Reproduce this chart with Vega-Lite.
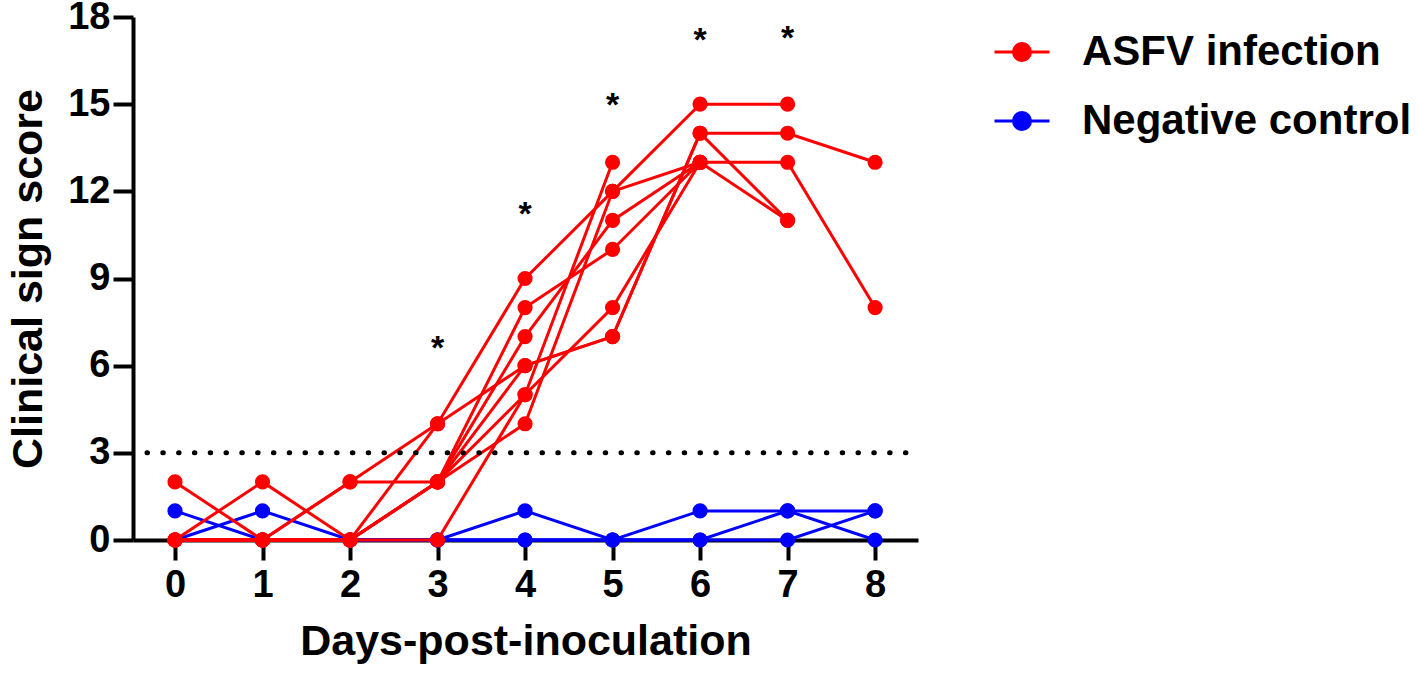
{
  "$schema": "https://vega.github.io/schema/vega-lite/v6.json",
  "width": 785,
  "height": 523,
  "autosize": {"type": "none"},
  "padding": {"left": 133, "top": 17, "right": 500, "bottom": 141},
  "background": "white",
  "config": {
    "view": {"stroke": null},
    "font": "Liberation Sans",
    "axis": {
      "grid": false,
      "domainColor": "black",
      "domainWidth": 4,
      "tickColor": "black",
      "tickWidth": 4,
      "tickSize": 20,
      "labelFont": "Liberation Sans",
      "labelFontSize": 38,
      "labelFontWeight": "bold",
      "labelColor": "black",
      "titleFont": "Liberation Sans",
      "titleFontSize": 43,
      "titleFontWeight": "bold",
      "titleColor": "black"
    },
    "axisX": {"labelPadding": 6, "titlePadding": 16, "format": "d"},
    "axisY": {"labelPadding": 3, "titlePadding": 17},
    "legend": {
      "orient": "none",
      "legendX": 860,
      "legendY": 6,
      "labelFont": "Liberation Sans",
      "labelFontSize": 42,
      "labelFontWeight": "bold",
      "labelColor": "black",
      "labelLimit": 0,
      "symbolType": "M-1,0H1M-0.31,0A0.31,0.31 0 1,1 0.31,0A0.31,0.31 0 1,1 -0.31,0Z",
      "symbolSize": 3025,
      "symbolStrokeWidth": 3,
      "labelOffset": 31,
      "rowPadding": 19
    }
  },
  "datasets": {
    "scores": [
      {"group": "Negative control", "pig": "X", "day": 0, "score": 1},
      {"group": "Negative control", "pig": "X", "day": 1, "score": 0},
      {"group": "Negative control", "pig": "X", "day": 2, "score": 0},
      {"group": "Negative control", "pig": "X", "day": 3, "score": 0},
      {"group": "Negative control", "pig": "X", "day": 4, "score": 1},
      {"group": "Negative control", "pig": "X", "day": 5, "score": 0},
      {"group": "Negative control", "pig": "X", "day": 6, "score": 1},
      {"group": "Negative control", "pig": "X", "day": 7, "score": 1},
      {"group": "Negative control", "pig": "X", "day": 8, "score": 1},
      {"group": "Negative control", "pig": "Y", "day": 0, "score": 0},
      {"group": "Negative control", "pig": "Y", "day": 1, "score": 1},
      {"group": "Negative control", "pig": "Y", "day": 2, "score": 0},
      {"group": "Negative control", "pig": "Y", "day": 3, "score": 0},
      {"group": "Negative control", "pig": "Y", "day": 4, "score": 0},
      {"group": "Negative control", "pig": "Y", "day": 5, "score": 0},
      {"group": "Negative control", "pig": "Y", "day": 6, "score": 0},
      {"group": "Negative control", "pig": "Y", "day": 7, "score": 1},
      {"group": "Negative control", "pig": "Y", "day": 8, "score": 0},
      {"group": "Negative control", "pig": "Z", "day": 0, "score": 0},
      {"group": "Negative control", "pig": "Z", "day": 1, "score": 0},
      {"group": "Negative control", "pig": "Z", "day": 2, "score": 0},
      {"group": "Negative control", "pig": "Z", "day": 3, "score": 0},
      {"group": "Negative control", "pig": "Z", "day": 4, "score": 0},
      {"group": "Negative control", "pig": "Z", "day": 5, "score": 0},
      {"group": "Negative control", "pig": "Z", "day": 6, "score": 0},
      {"group": "Negative control", "pig": "Z", "day": 7, "score": 0},
      {"group": "Negative control", "pig": "Z", "day": 8, "score": 1},
      {"group": "ASFV infection", "pig": "A", "day": 0, "score": 2},
      {"group": "ASFV infection", "pig": "A", "day": 1, "score": 0},
      {"group": "ASFV infection", "pig": "A", "day": 2, "score": 2},
      {"group": "ASFV infection", "pig": "A", "day": 3, "score": 4},
      {"group": "ASFV infection", "pig": "A", "day": 4, "score": 9},
      {"group": "ASFV infection", "pig": "A", "day": 5, "score": 12},
      {"group": "ASFV infection", "pig": "A", "day": 6, "score": 15},
      {"group": "ASFV infection", "pig": "A", "day": 7, "score": 15},
      {"group": "ASFV infection", "pig": "B", "day": 0, "score": 0},
      {"group": "ASFV infection", "pig": "B", "day": 1, "score": 2},
      {"group": "ASFV infection", "pig": "B", "day": 2, "score": 0},
      {"group": "ASFV infection", "pig": "B", "day": 3, "score": 4},
      {"group": "ASFV infection", "pig": "B", "day": 4, "score": 6},
      {"group": "ASFV infection", "pig": "B", "day": 5, "score": 7},
      {"group": "ASFV infection", "pig": "B", "day": 6, "score": 14},
      {"group": "ASFV infection", "pig": "B", "day": 7, "score": 14},
      {"group": "ASFV infection", "pig": "B", "day": 8, "score": 13},
      {"group": "ASFV infection", "pig": "C", "day": 0, "score": 0},
      {"group": "ASFV infection", "pig": "C", "day": 1, "score": 0},
      {"group": "ASFV infection", "pig": "C", "day": 2, "score": 2},
      {"group": "ASFV infection", "pig": "C", "day": 3, "score": 2},
      {"group": "ASFV infection", "pig": "C", "day": 4, "score": 8},
      {"group": "ASFV infection", "pig": "C", "day": 5, "score": 10},
      {"group": "ASFV infection", "pig": "C", "day": 6, "score": 13},
      {"group": "ASFV infection", "pig": "C", "day": 7, "score": 13},
      {"group": "ASFV infection", "pig": "C", "day": 8, "score": 8},
      {"group": "ASFV infection", "pig": "D", "day": 0, "score": 0},
      {"group": "ASFV infection", "pig": "D", "day": 1, "score": 0},
      {"group": "ASFV infection", "pig": "D", "day": 2, "score": 0},
      {"group": "ASFV infection", "pig": "D", "day": 3, "score": 2},
      {"group": "ASFV infection", "pig": "D", "day": 4, "score": 7},
      {"group": "ASFV infection", "pig": "D", "day": 5, "score": 11},
      {"group": "ASFV infection", "pig": "D", "day": 6, "score": 13},
      {"group": "ASFV infection", "pig": "D", "day": 7, "score": 11},
      {"group": "ASFV infection", "pig": "E", "day": 0, "score": 0},
      {"group": "ASFV infection", "pig": "E", "day": 1, "score": 0},
      {"group": "ASFV infection", "pig": "E", "day": 2, "score": 0},
      {"group": "ASFV infection", "pig": "E", "day": 3, "score": 2},
      {"group": "ASFV infection", "pig": "E", "day": 4, "score": 6},
      {"group": "ASFV infection", "pig": "E", "day": 5, "score": 7},
      {"group": "ASFV infection", "pig": "E", "day": 6, "score": 14},
      {"group": "ASFV infection", "pig": "E", "day": 7, "score": 11},
      {"group": "ASFV infection", "pig": "F", "day": 0, "score": 0},
      {"group": "ASFV infection", "pig": "F", "day": 1, "score": 0},
      {"group": "ASFV infection", "pig": "F", "day": 2, "score": 0},
      {"group": "ASFV infection", "pig": "F", "day": 3, "score": 2},
      {"group": "ASFV infection", "pig": "F", "day": 4, "score": 5},
      {"group": "ASFV infection", "pig": "F", "day": 5, "score": 13},
      {"group": "ASFV infection", "pig": "G", "day": 0, "score": 0},
      {"group": "ASFV infection", "pig": "G", "day": 1, "score": 0},
      {"group": "ASFV infection", "pig": "G", "day": 2, "score": 0},
      {"group": "ASFV infection", "pig": "G", "day": 3, "score": 2},
      {"group": "ASFV infection", "pig": "G", "day": 4, "score": 4},
      {"group": "ASFV infection", "pig": "G", "day": 5, "score": 12},
      {"group": "ASFV infection", "pig": "G", "day": 6, "score": 13},
      {"group": "ASFV infection", "pig": "H", "day": 0, "score": 0},
      {"group": "ASFV infection", "pig": "H", "day": 1, "score": 0},
      {"group": "ASFV infection", "pig": "H", "day": 2, "score": 0},
      {"group": "ASFV infection", "pig": "H", "day": 3, "score": 0},
      {"group": "ASFV infection", "pig": "H", "day": 4, "score": 5},
      {"group": "ASFV infection", "pig": "H", "day": 5, "score": 8},
      {"group": "ASFV infection", "pig": "H", "day": 6, "score": 13}
    ],
    "stars": [
      {"day": 3, "score": 6.9},
      {"day": 4, "score": 11.5},
      {"day": 5, "score": 15.25},
      {"day": 6, "score": 17.5},
      {"day": 7, "score": 17.55}
    ]
  },
  "layer": [
    {
      "data": {"name": "scores"},
      "transform": [{"filter": "datum.group === 'Negative control'"}],
      "mark": {"type": "line", "strokeWidth": 3},
      "encoding": {
        "x": {"field": "day", "type": "quantitative", "title": "Days-post-inoculation",
              "scale": {"domain": [-0.48, 8.49], "nice": false, "zero": false},
              "axis": {"values": [0, 1, 2, 3, 4, 5, 6, 7, 8], "title": "Days-post-inoculation", "format": "d"}},
        "y": {"field": "score", "type": "quantitative", "title": "Clinical sign score",
              "scale": {"domain": [0, 18], "nice": false},
              "axis": {"values": [0, 3, 6, 9, 12, 15, 18], "title": "Clinical sign score"}},
        "color": {"field": "group", "type": "nominal", "title": null,
                  "scale": {"domain": ["ASFV infection", "Negative control"], "range": ["#ff0000", "#0000ff"]}},
        "detail": {"field": "pig"},
        "order": {"field": "day"}
      }
    },
    {
      "data": {"name": "scores"},
      "transform": [{"filter": "datum.group === 'Negative control'"}],
      "mark": {"type": "point", "filled": true, "size": 230, "opacity": 1},
      "encoding": {
        "x": {"field": "day", "type": "quantitative", "title": "Days-post-inoculation"},
        "y": {"field": "score", "type": "quantitative", "title": "Clinical sign score"},
        "color": {"field": "group", "type": "nominal", "title": null}
      }
    },
    {
      "data": {"name": "scores"},
      "transform": [{"filter": "datum.group === 'ASFV infection'"}],
      "mark": {"type": "line", "strokeWidth": 3},
      "encoding": {
        "x": {"field": "day", "type": "quantitative", "title": "Days-post-inoculation"},
        "y": {"field": "score", "type": "quantitative", "title": "Clinical sign score"},
        "color": {"field": "group", "type": "nominal", "title": null},
        "detail": {"field": "pig"},
        "order": {"field": "day"}
      }
    },
    {
      "data": {"name": "scores"},
      "transform": [{"filter": "datum.group === 'ASFV infection'"}],
      "mark": {"type": "point", "filled": true, "size": 230, "opacity": 1},
      "encoding": {
        "x": {"field": "day", "type": "quantitative", "title": "Days-post-inoculation"},
        "y": {"field": "score", "type": "quantitative", "title": "Clinical sign score"},
        "color": {"field": "group", "type": "nominal", "title": null}
      }
    },
    {
      "data": {"values": [{}]},
      "mark": {"type": "rule", "color": "black", "strokeWidth": 5, "strokeDash": [0.5, 15.3], "strokeCap": "round"},
      "encoding": {
        "x": {"datum": -0.32, "type": "quantitative"},
        "x2": {"datum": 8.47},
        "y": {"datum": 3, "type": "quantitative"}
      }
    },
    {
      "data": {"name": "stars"},
      "mark": {"type": "text", "text": "*", "font": "Liberation Sans", "fontSize": 34, "fontWeight": "bold", "color": "black", "baseline": "alphabetic", "dy": 19},
      "encoding": {
        "x": {"field": "day", "type": "quantitative"},
        "y": {"field": "score", "type": "quantitative"}
      }
    }
  ]
}
